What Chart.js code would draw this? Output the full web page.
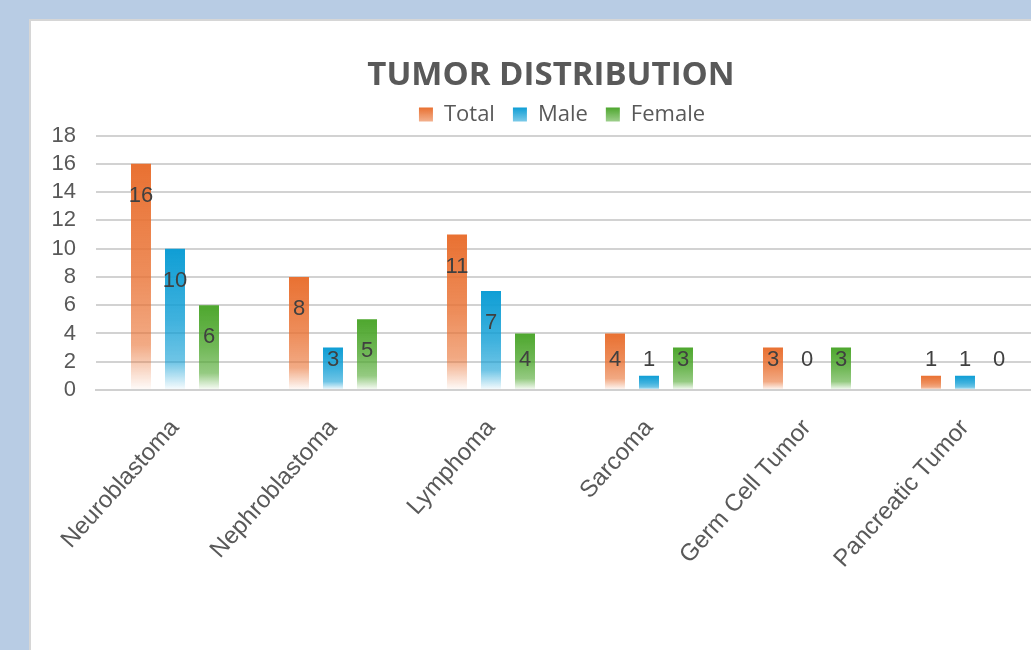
<!DOCTYPE html>
<html><head><meta charset="utf-8">
<script src="https://cdn.jsdelivr.net/npm/chart.js@4.4.1/dist/chart.umd.min.js"></script>
<style>
html,body{margin:0;padding:0;width:1031px;height:650px;overflow:hidden;background:#b8cce4;}
#panel{position:absolute;left:29px;top:19px;width:1100px;height:700px;background:#fff;border-left:2px solid #d6d6d6;border-top:2px solid #d6d6d6;}
#wrap{position:absolute;left:0;top:0;width:1040px;height:640px;}
</style></head><body>
<div id="panel"><div id="wrap"><canvas id="c" width="1040" height="640"></canvas></div></div>
<script>
const categories = ['Neuroblastoma', 'Nephroblastoma', 'Lymphoma', 'Sarcoma', 'Germ Cell Tumor', 'Pancreatic Tumor'];
const totalValues = [16, 8, 11, 4, 3, 1];
const maleValues = [10, 3, 7, 1, 0, 1];
const femaleValues = [6, 5, 4, 3, 3, 0];
const seriesNames = ['Total', 'Male', 'Female'];
const yTickValues = [0, 2, 4, 6, 8, 10, 12, 14, 16, 18];

const seriesRGB = ['233,113,50', '15,158,213', '78,167,46'];

function barGradient(rgb) {
  return (ctx) => {
    const chart = ctx.chart;
    const y = chart.scales && chart.scales.y;
    const solid = 'rgb(' + rgb + ')';
    if (!y || ctx.type !== 'data') return solid;
    const top = y.getPixelForValue(ctx.raw);
    const base = y.getPixelForValue(0);
    if (!isFinite(top) || !isFinite(base) || base - top < 1) return solid;
    const g = chart.ctx.createLinearGradient(0, top, 0, base);
    g.addColorStop(0, 'rgba(' + rgb + ',1)');
    g.addColorStop(0.5, 'rgba(' + rgb + ',0.8)');
    g.addColorStop(0.8, 'rgba(' + rgb + ',0.6)');
    g.addColorStop(1, 'rgba(' + rgb + ',0.02)');
    return g;
  };
}

const legendTweakPlugin = {
  id: 'legendTweak',
  afterLayout(chart) {
    const lg = chart.legend;
    if (lg) { lg.left += 11; lg.right += 11; }
  },
  beforeDraw(chart) {
    const lg = chart.legend;
    if (!lg || !lg.legendHitBoxes || !lg.legendItems) return;
    lg.legendItems.forEach((it, i) => {
      const hb = lg.legendHitBoxes[i];
      if (!hb) return;
      const c = hb.top + hb.height / 2;
      const rgb = seriesRGB[it.datasetIndex];
      const g = chart.ctx.createLinearGradient(0, c - 7, 0, c + 7);
      g.addColorStop(0, 'rgba(' + rgb + ',1)');
      g.addColorStop(1, 'rgba(' + rgb + ',0.55)');
      it.fillStyle = g;
    });
  }
};

const valueLabelPlugin = {
  id: 'valueLabels',
  afterDatasetsDraw(chart) {
    const ctx = chart.ctx;
    const y = chart.scales.y;
    const base = y.getPixelForValue(0);
    ctx.save();
    ctx.font = '22px "Liberation Sans", Arial, sans-serif';
    ctx.fillStyle = '#404040';
    ctx.textAlign = 'center';
    ctx.textBaseline = 'middle';
    chart.data.datasets.forEach((ds, di) => {
      const meta = chart.getDatasetMeta(di);
      meta.data.forEach((el, i) => {
        const v = ds.data[i];
        const ty = Math.min(y.getPixelForValue(v) + 32, base - 30);
        ctx.fillText(String(v), el.x, ty);
      });
    });
    ctx.restore();
  }
};

const seriesData = [totalValues, maleValues, femaleValues];

new Chart(document.getElementById('c'), {
  type: 'bar',
  data: {
    labels: categories,
    datasets: seriesNames.map((name, i) => ({
      label: name,
      data: seriesData[i],
      backgroundColor: barGradient(seriesRGB[i]),
      borderWidth: 0,
      categoryPercentage: 0.6456,
      barPercentage: 0.588
    }))
  },
  options: {
    responsive: false,
    animation: false,
    layout: { padding: 0 },
    plugins: {
      tooltip: { enabled: false },
      title: {
        display: true,
        text: 'TUMOR DISTRIBUTION',
        color: '#595959',
        font: { family: '"Open Sans", sans-serif', size: 33, weight: 'bold' },
        padding: { top: 35, bottom: -10 }
      },
      legend: {
        display: true,
        position: 'top',
        labels: {
          color: '#595959',
          font: { family: '"Open Sans", sans-serif', size: 22 },
          boxWidth: 14,
          boxHeight: 14,
          padding: 18
        }
      }
    },
    scales: {
      x: {
        grid: { display: false },
        border: { display: true, color: '#d0d0d0', width: 2 },
        ticks: {
          color: '#595959',
          font: { family: '"Liberation Sans", Arial, sans-serif', size: 24 },
          maxRotation: 48,
          minRotation: 48,
          padding: 16
        },
        afterFit(scale) { scale.height = 271; }
      },
      y: {
        min: 0,
        max: 18,
        afterBuildTicks(scale) { scale.ticks = yTickValues.map(v => ({ value: v })); },
        grid: { color: '#d2d2d2', lineWidth: 2, drawTicks: false },
        border: { display: false },
        ticks: {
          autoSkip: false,
          color: '#595959',
          font: { family: '"Liberation Sans", Arial, sans-serif', size: 22 },
          padding: 20
        },
        afterFit(scale) { scale.width = 65; }
      },
      yRight: {
        position: 'right',
        display: true,
        grid: { display: false, drawTicks: false },
        border: { display: false },
        ticks: { display: false },
        afterFit(scale) { scale.width = 27; }
      }
    }
  },
  plugins: [legendTweakPlugin, valueLabelPlugin]
});
</script>
</body></html>
